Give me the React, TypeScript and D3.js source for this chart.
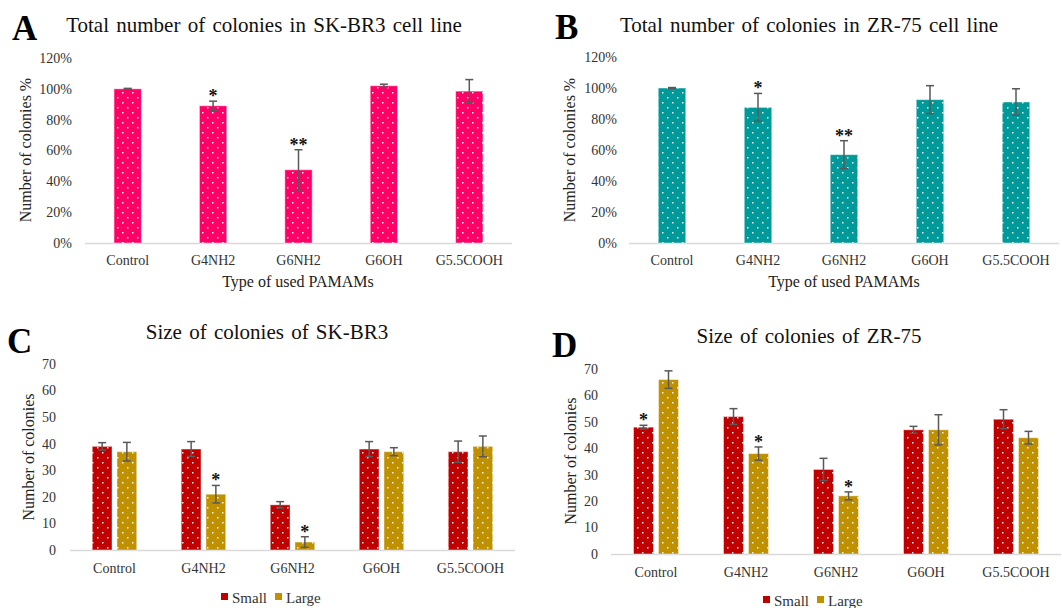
import * as d3 from 'd3';

const categories = ['Control', 'G4NH2', 'G6NH2', 'G6OH', 'G5.5COOH'];

// A: total colonies SK-BR3 (%)
const skbr3Total = [100, 89, 47.5, 102, 98.5];
const skbr3TotalErr = [0.3, 3, 13, 1, 7.5];
const skbr3TotalSig = ['', '*', '**', '', ''];

// B: total colonies ZR-75 (%)
const zr75Total = [100, 87.5, 57, 92.5, 91];
const zr75TotalErr = [0.3, 9, 9, 9, 8.5];
const zr75TotalSig = ['', '*', '**', '', ''];

// C: size of colonies SK-BR3
const skbr3Small = [39, 38, 17, 38, 37];
const skbr3SmallErr = [1.4, 2.8, 1.2, 2.8, 4];
const skbr3SmallSig = ['', '', '', '', ''];
const skbr3Large = [37, 21, 3, 37, 39];
const skbr3LargeErr = [3.5, 3.3, 2, 1.5, 3.9];
const skbr3LargeSig = ['', '*', '*', '', ''];

// D: size of colonies ZR-75
const zr75Small = [48, 52, 32, 47, 51];
const zr75SmallErr = [0.7, 3, 4.2, 1.3, 3.6];
const zr75SmallSig = ['*', '', '', '', ''];
const zr75Large = [66, 38, 22, 47, 44];
const zr75LargeErr = [3.3, 2.5, 1.5, 5.7, 2.4];
const zr75LargeSig = ['', '*', '*', '', ''];

const seriesNames = ['Small', 'Large'];

const serif = { fontFamily: 'Liberation Serif' };

const Panel = ({ cfg }) => {
  const x = d3
    .scaleBand()
    .domain(categories)
    .range([cfg.x0, cfg.x1])
    .paddingInner(cfg.padIn)
    .paddingOuter(cfg.padOut);
  const y = d3.scaleLinear().domain([0, cfg.max]).range([cfg.yBase, cfg.yTop]);
  const ticks = d3.range(0, cfg.max + 1, cfg.step);

  const inner = (c) =>
    d3
      .scaleBand()
      .domain(cfg.series.map((s, i) => i))
      .range([x(c), x(c) + x.bandwidth()])
      .paddingInner(cfg.series.length > 1 ? 0.2 : 0);

  return (
    <g>
      <text x={cfg.letter[0]} y={cfg.letter[1]} fontSize={35} fontWeight="bold" fill="#000" style={serif}>
        {cfg.letterText}
      </text>
      <text x={cfg.title[0]} y={cfg.title[1]} fontSize={21} textAnchor="middle" fill="#111" wordSpacing={2} style={serif}>
        {cfg.titleText}
      </text>
      {ticks.map((t) => (
        <text key={t} x={cfg.tickX} y={y(t)} dy="0.35em" fontSize={14} textAnchor="end" fill="#333" style={serif}>
          {cfg.fmt(t)}
        </text>
      ))}
      <text
        transform={`translate(${cfg.yTitle[0]},${cfg.yTitle[1]}) rotate(-90)`}
        fontSize={16}
        textAnchor="middle"
        fill="#222"
        style={serif}
      >
        {cfg.yTitleText}
      </text>
      <line x1={cfg.x0} x2={cfg.x1} y1={cfg.yBase + 0.5} y2={cfg.yBase + 0.5} stroke="#d9d9d9" strokeWidth={1.5} />
      {categories.map((c, ci) => {
        const xi = inner(c);
        return (
          <g key={c}>
            {cfg.series.map((s, si) => {
              const bx = xi(si);
              const bw = xi.bandwidth();
              const v = s.values[ci];
              const e = s.errs[ci];
              const cx = bx + bw / 2;
              const top = y(v + e);
              return (
                <g key={si}>
                  <rect x={bx} y={y(v)} width={bw} height={cfg.yBase - y(v)} fill={s.color} />
                  <rect
                    x={bx}
                    y={y(v)}
                    width={bw}
                    height={cfg.yBase - y(v)}
                    fill="url(#dots)"
                    stroke="rgba(255,255,255,0.45)"
                    strokeWidth={1}
                  />
                  <g stroke="#595959" strokeWidth={1.5}>
                    <line x1={cx} x2={cx} y1={y(v + e)} y2={y(v - e)} />
                    <line x1={cx - 4} x2={cx + 4} y1={y(v + e)} y2={y(v + e)} />
                    <line x1={cx - 4} x2={cx + 4} y1={y(v - e)} y2={y(v - e)} />
                  </g>
                  {s.sig[ci] && (
                    <text x={cx} y={top + 1} fontSize={18} fontWeight="bold" textAnchor="middle" fill="#111" style={serif}>
                      {s.sig[ci]}
                    </text>
                  )}
                </g>
              );
            })}
            <text x={x(c) + x.bandwidth() / 2} y={cfg.catY} fontSize={14} textAnchor="middle" fill="#333" style={serif}>
              {c}
            </text>
          </g>
        );
      })}
      {cfg.xTitleText && (
        <text x={cfg.xTitle[0]} y={cfg.xTitle[1]} fontSize={16} textAnchor="middle" fill="#222" style={serif}>
          {cfg.xTitleText}
        </text>
      )}
      {cfg.legend &&
        cfg.series.map((s, si) => (
          <g key={si}>
            <rect x={cfg.legend.x[si]} y={cfg.legend.y - 10} width={7} height={7} fill={s.color} />
            <text x={cfg.legend.x[si] + 11} y={cfg.legend.y} fontSize={15} fill="#333" style={serif}>
              {seriesNames[si]}
            </text>
          </g>
        ))}
    </g>
  );
};

const pct = (t) => `${t}%`;
const num = (t) => `${t}`;

const panels = [
  {
    letterText: 'A',
    letter: [12, 40],
    titleText: 'Total number of colonies in SK-BR3 cell line',
    title: [264, 32],
    x0: 85, x1: 512, yBase: 243, yTop: 58, max: 120, step: 20, fmt: pct,
    padIn: 0.68, padOut: 0.34,
    tickX: 72,
    yTitleText: 'Number of colonies %',
    yTitle: [31, 150],
    catY: 265,
    xTitleText: 'Type of used PAMAMs',
    xTitle: [298, 287],
    series: [{ values: skbr3Total, errs: skbr3TotalErr, sig: skbr3TotalSig, color: '#FF0066' }],
  },
  {
    letterText: 'B',
    letter: [555, 39],
    titleText: 'Total number of colonies in ZR-75 cell line',
    title: [809, 32],
    x0: 629, x1: 1059, yBase: 243, yTop: 57, max: 120, step: 20, fmt: pct,
    padIn: 0.68, padOut: 0.34,
    tickX: 617,
    yTitleText: 'Number of colonies %',
    yTitle: [575, 150],
    catY: 265,
    xTitleText: 'Type of used PAMAMs',
    xTitle: [844, 287],
    series: [{ values: zr75Total, errs: zr75TotalErr, sig: zr75TotalSig, color: '#009999' }],
  },
  {
    letterText: 'C',
    letter: [7, 353],
    titleText: 'Size of colonies of SK-BR3',
    title: [267, 339],
    x0: 70, x1: 515, yBase: 550, yTop: 364, max: 70, step: 10, fmt: num,
    padIn: 0.5, padOut: 0.25,
    tickX: 56,
    yTitleText: 'Number of colonies',
    yTitle: [34, 457],
    catY: 573,
    legend: { x: [221, 275], y: 603 },
    series: [
      { values: skbr3Small, errs: skbr3SmallErr, sig: skbr3SmallSig, color: '#C00000' },
      { values: skbr3Large, errs: skbr3LargeErr, sig: skbr3LargeSig, color: '#BF9000' },
    ],
  },
  {
    letterText: 'D',
    letter: [552, 357],
    titleText: 'Size of colonies of ZR-75',
    title: [809, 343],
    x0: 611, x1: 1061, yBase: 554, yTop: 369, max: 70, step: 10, fmt: num,
    padIn: 0.5, padOut: 0.25,
    tickX: 598,
    yTitleText: 'Number of colonies',
    yTitle: [576, 461],
    catY: 577,
    legend: { x: [763, 817], y: 606 },
    series: [
      { values: zr75Small, errs: zr75SmallErr, sig: zr75SmallSig, color: '#C00000' },
      { values: zr75Large, errs: zr75LargeErr, sig: zr75LargeSig, color: '#BF9000' },
    ],
  },
];

const App = () => {
  return (
    <div style={{ position: 'absolute', left: 0, top: 0 }}>
      <svg width={1062} height={608} style={{ display: 'block', background: '#fff' }}>
        <defs>
          <pattern id="dots" patternUnits="userSpaceOnUse" width={10} height={10}>
            <rect x={2} y={2} width={1.5} height={1.5} fill="rgba(255,255,255,0.9)" />
            <rect x={7} y={7} width={1.5} height={1.5} fill="rgba(255,255,255,0.9)" />
          </pattern>
        </defs>
        {panels.map((p) => (
          <Panel key={p.letterText} cfg={p} />
        ))}
      </svg>
    </div>
  );
};

export default App;
